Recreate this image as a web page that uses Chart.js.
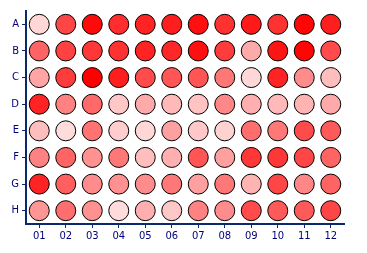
<!DOCTYPE html>
<html>
<head>
<meta charset="utf-8">
<script src="https://cdn.jsdelivr.net/npm/chart.js@4"></script>
<style>
	body { margin: 0; background: #fff; }
</style>
</head>
<body>
<canvas id="plateChart" width="367" height="253"></canvas>
<script>
// plate layout: rows A-H, columns 01-12
const rowLabels = ["A", "B", "C", "D", "E", "F", "G", "H"];
const colLabels = ["01", "02", "03", "04", "05", "06", "07", "08", "09", "10", "11", "12"];

// signal per well (0 = pale, 225 = full red), one array per row
const rowA = [10, 155, 215, 180, 190, 195, 210, 175, 200, 175, 220, 195];
const rowB = [125, 160, 170, 175, 190, 185, 210, 165, 55, 205, 220, 150];
const rowC = [60, 165, 225, 195, 150, 140, 140, 105, 10, 190, 85, 35];
const rowD = [190, 95, 120, 25, 55, 40, 30, 90, 50, 40, 45, 55];
const rowE = [35, 5, 110, 20, 10, 65, 25, 15, 115, 105, 150, 135];
const rowF = [95, 125, 80, 105, 35, 50, 140, 65, 170, 170, 155, 125];
const rowG = [190, 130, 85, 80, 85, 105, 65, 105, 45, 155, 90, 125];
const rowH = [75, 115, 80, 5, 50, 25, 95, 85, 150, 135, 135, 155];

const plate = [rowA, rowB, rowC, rowD, rowE, rowF, rowG, rowH];
const maxSignal = 225;

function wellColor(v) {
	const g = Math.round(225 * (1 - v / maxSignal));
	return "rgb(255," + g + "," + g + ")";
}

const points = [];
const colors = [];
plate.forEach((row, r) => {
	row.forEach((v, c) => {
		points.push({ x: c + 1, y: r + 1, v: v });
		colors.push(wellColor(v));
	});
});

const navy = "#0b2a6e";
const labelColor = "#00007a";

const ctx = document.getElementById("plateChart").getContext("2d");
new Chart(ctx, {
	type: "scatter",
	data: {
		datasets: [
			{
				data: points,
				backgroundColor: colors,
				borderColor: "#000",
				borderWidth: 1,
				pointRadius: 10,
				pointHoverRadius: 10,
			},
		],
	},
	options: {
		responsive: false,
		animation: false,
		layout: {
			padding: { top: 9, right: 23, left: 0, bottom: 0 },
		},
		plugins: {
			legend: { display: false },
			tooltip: { enabled: false },
		},
		scales: {
			x: {
				type: "linear",
				min: 0.5,
				max: 12.5,
				afterBuildTicks: (scale) => {
					scale.ticks = colLabels.map((l, i) => ({ value: i + 1 }));
				},
				afterFit: (scale) => {
					scale.height = 29;
				},
				ticks: {
					callback: (val) => colLabels[val - 1],
					color: labelColor,
					font: { family: "DejaVu Sans", size: 10 },
					padding: 2,
					maxRotation: 0,
				},
				grid: {
					drawOnChartArea: false,
					tickLength: 4,
					color: navy,
				},
				border: { color: navy, width: 2 },
			},
			y: {
				type: "linear",
				reverse: true,
				min: 0.5,
				max: 8.5,
				afterBuildTicks: (scale) => {
					scale.ticks = rowLabels.map((l, i) => ({ value: i + 1 }));
				},
				afterFit: (scale) => {
					scale.width = 26;
				},
				ticks: {
					callback: (val) => rowLabels[val - 1],
					color: labelColor,
					font: { family: "DejaVu Sans", size: 10 },
					padding: 3,
				},
				grid: {
					drawOnChartArea: false,
					tickLength: 4,
					color: navy,
				},
				border: { color: navy, width: 2 },
			},
		},
	},
});
</script>
</body>
</html>
